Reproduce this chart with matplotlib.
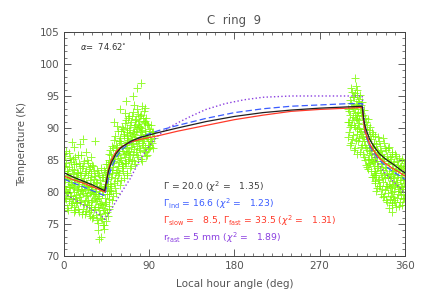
import matplotlib
matplotlib.use("Agg")
import matplotlib.pyplot as plt
import numpy as np

# measured temperatures (scatter), grouped by local hour angle
morning_ang = [1, 3, 5, 7, 9, 11, 13, 15, 17, 19, 21, 23, 25, 27, 29, 31, 33, 35, 37, 39,
               41, 43, 45, 47, 49, 51, 53, 55, 57, 59, 61, 63, 65, 67, 69, 71, 73, 75, 77,
               79, 81, 83, 85, 87, 89, 91, 93, 95]
morning_temp = [
    [79.1, 81.8, 80.4, 84.0, 85.6], [77.5, 82.6, 79.9, 83.3], [80.7, 78.6, 83.9, 82.0, 86.1],
    [81.2, 77.9, 84.7, 79.4], [78.9, 82.8, 80.6, 85.2], [80.0, 76.9, 83.5, 81.5, 87.0],
    [82.3, 79.5, 84.4, 78.2], [77.3, 81.0, 80.3, 85.8, 83.0], [79.7, 82.9, 78.5, 84.1, 87.5],
    [81.6, 76.6, 83.7, 80.1], [78.1, 80.9, 82.2, 84.8], [77.0, 79.3, 83.2, 81.4, 86.2],
    [80.5, 78.8, 82.6, 84.5], [76.3, 81.8, 79.9, 83.9], [78.4, 80.7, 77.6, 82.9, 85.4],
    [79.6, 76.1, 81.2, 84.0], [77.7, 80.2, 82.5, 79.0, 88.0], [75.6, 78.9, 81.4, 83.4],
    [77.2, 80.6, 79.1, 82.6, 72.6], [76.0, 78.3, 81.0, 83.8, 73.0], [77.5, 74.9, 80.1, 82.4],
    [76.7, 79.0, 78.1, 81.7, 83.1],
    [76.8, 79.6, 80.9, 83.7], [78.9, 80.1, 82.8, 85.9, 77.4], [80.3, 81.2, 84.7, 86.5],
    [78.7, 82.9, 83.5, 87.2], [81.4, 84.8, 85.2, 88.1, 91.0], [79.9, 83.1, 86.6, 87.4],
    [82.6, 84.0, 85.7, 89.5], [81.1, 85.3, 87.9, 88.4, 93.0], [83.7, 84.4, 86.8, 90.2],
    [82.2, 85.9, 88.8, 89.1], [84.5, 86.1, 87.3, 91.3, 94.2], [83.0, 87.8, 88.9, 90.0],
    [85.2, 86.4, 89.7, 91.8], [84.0, 87.1, 88.3, 90.9], [86.0, 87.7, 89.4, 92.5, 95.0],
    [84.3, 88.6, 90.5, 91.2], [85.8, 87.2, 89.9, 92.9, 96.3], [86.9, 88.1, 91.1, 90.3],
    [85.1, 89.3, 90.0, 92.0, 97.0], [87.4, 88.5, 91.6], [86.3, 89.0, 90.7, 93.2],
    [85.6, 88.7, 91.5], [87.9, 86.7, 90.4], [88.2, 89.6, 87.0], [87.6, 89.3], [88.4],
]
morning_ang_b = [0, 2, 4, 6, 8, 10, 12, 14, 16, 18, 20, 22, 24, 26, 28, 30, 32, 34, 36, 38,
                 40, 42, 44, 46, 48, 50, 52, 54, 56, 58, 60, 62, 64, 66, 68, 70, 72, 74, 76,
                 78, 80, 82, 84, 86, 88, 90, 92, 94]
morning_temp_b = [
    [78.0, 80.9, 83.3, 82.1], [80.2, 84.6, 78.9, 86.4], [77.1, 81.5, 83.0, 79.8],
    [79.3, 82.4, 85.3, 80.8], [78.2, 81.1, 83.6, 87.8], [80.7, 77.7, 82.0, 84.3],
    [79.0, 81.9, 85.4, 77.2], [80.4, 78.4, 83.1, 82.0], [76.8, 81.3, 79.2, 84.6],
    [78.7, 82.7, 80.5, 85.7], [79.8, 77.4, 81.7, 84.0, 88.3], [76.5, 80.3, 82.9, 78.6],
    [79.5, 81.1, 77.9, 85.0], [78.0, 80.8, 83.6, 76.9], [80.0, 77.2, 82.3, 81.0],
    [78.8, 75.9, 80.4, 84.2], [77.4, 79.7, 82.0, 83.3], [76.4, 78.6, 81.5, 80.0],
    [75.1, 79.4, 77.6, 82.9, 74.0], [78.1, 76.6, 80.8, 81.9], [75.8, 77.9, 79.7, 82.4],
    [74.8, 77.1, 80.6, 83.4, 74.2],
    [78.4, 75.5, 81.3, 82.6, 84.4], [76.2, 80.9, 82.0, 84.3], [79.6, 77.8, 83.4, 85.0],
    [81.0, 82.4, 85.8, 80.2], [79.4, 83.9, 86.8, 84.5], [82.1, 80.6, 85.6, 88.7],
    [83.5, 81.7, 87.0, 86.1, 90.3], [84.7, 82.9, 88.0, 86.4], [81.9, 85.0, 87.7, 89.6],
    [84.1, 86.4, 83.3, 89.9], [85.5, 87.3, 84.6, 90.7, 92.4], [82.6, 86.9, 88.5, 89.4],
    [84.9, 88.1, 86.2, 91.6], [85.7, 83.8, 89.2, 90.4], [87.5, 85.0, 88.8, 91.9],
    [86.7, 84.8, 90.1, 89.0, 93.6], [88.0, 86.2, 91.4, 89.6], [85.5, 87.9, 90.6, 92.2],
    [86.6, 88.9, 91.8, 90.2], [84.9, 87.6, 89.7, 93.4], [86.4, 88.3, 90.9, 92.6],
    [87.1, 89.5, 91.1], [85.8, 88.6, 90.6], [87.3, 89.9, 86.9], [88.0, 90.5], [86.9, 89.4],
]
evening_ang = [301, 303, 305, 307, 309, 311, 313, 315, 317, 319, 321, 323, 325, 327, 329,
               331, 333, 335, 337, 339, 341, 343, 345, 347, 349, 351, 353, 355, 357, 359]
evening_temp = [
    [89.4, 92.6, 91.0], [87.6, 93.9, 90.5, 96.2], [91.7, 88.9, 94.8, 93.1],
    [86.9, 92.3, 90.2, 95.4, 97.8], [89.0, 93.6, 91.4, 95.9], [87.9, 90.8, 94.2, 92.5],
    [86.2, 89.6, 93.0, 95.1], [88.7, 91.9, 87.3, 94.0], [85.5, 89.9, 88.0, 92.8],
    [86.8, 84.2, 90.9, 89.1], [87.9, 85.1, 91.4, 83.6], [84.6, 88.8, 86.4, 90.2],
    [82.3, 86.9, 85.0, 89.4], [84.1, 87.7, 82.7, 85.9], [81.4, 85.5, 88.7, 83.3],
    [83.8, 80.6, 86.6, 84.9], [82.0, 85.8, 80.9, 87.9], [79.7, 84.3, 82.9, 86.4],
    [81.5, 85.2, 83.4, 79.2, 88.4], [80.3, 83.9, 86.9, 82.1], [78.5, 82.8, 85.6, 80.9],
    [81.3, 84.5, 77.5, 83.0, 87.0], [79.4, 82.5, 85.1, 80.6], [78.0, 83.8, 81.1, 76.9, 86.2],
    [80.1, 82.2, 84.7, 78.8], [77.6, 81.6, 83.5, 85.6], [79.6, 82.7, 80.7, 84.2],
    [78.4, 81.9, 83.9, 80.2], [80.8, 77.9, 82.6, 85.1], [79.1, 83.2, 81.4, 84.6],
]
evening_ang_b = [300, 302, 304, 306, 308, 310, 312, 314, 316, 318, 320, 322, 324, 326, 328,
                 330, 332, 334, 336, 338, 340, 342, 344, 346, 348, 350, 352, 354, 356, 358, 360]
evening_temp_b = [
    [88.6, 90.9, 93.0], [90.1, 87.4, 94.4, 92.0], [88.3, 95.6, 91.2, 93.5],
    [90.4, 86.6, 92.9, 94.9], [88.1, 93.8, 91.6, 96.5], [89.8, 86.0, 92.1, 95.2],
    [91.2, 88.4, 94.6, 90.0], [87.0, 92.4, 89.3, 93.6], [85.9, 90.6, 88.6, 92.1],
    [87.4, 85.0, 89.8, 91.6], [83.9, 88.3, 86.6, 90.5], [85.8, 89.7, 84.4, 87.1],
    [83.2, 86.1, 88.2, 85.1], [84.7, 82.3, 87.1, 89.1], [83.0, 86.5, 84.9, 81.7],
    [85.4, 82.6, 87.5, 80.2], [81.8, 84.0, 86.3, 88.6], [83.4, 80.9, 85.7, 87.2],
    [80.4, 84.6, 82.3, 86.0], [82.7, 79.3, 85.3, 87.6], [81.0, 83.7, 78.7, 86.5],
    [79.8, 84.9, 82.4, 86.8], [82.1, 78.9, 80.8, 85.5], [80.0, 83.3, 85.9, 78.3],
    [81.7, 79.2, 84.4, 82.8], [78.5, 80.9, 83.2, 86.0], [81.2, 84.8, 79.0, 82.4],
    [80.4, 77.8, 83.6, 85.3], [82.3, 79.5, 84.1, 81.0], [78.9, 81.8, 83.7, 80.5],
    [79.6, 82.9, 84.9],
]

# model curves
model_ang = [0, 10, 20, 30, 40, 43, 45, 47, 50, 55, 60, 70, 80, 90, 100, 120, 150, 180,
             210, 240, 270, 300, 315, 316.5, 318, 320, 323, 327, 333, 340, 348, 355, 360]
t_gamma = [83.0, 82.3, 81.7, 81.1, 80.4, 80.2, 81.8, 83.3, 84.6, 86.0, 86.9, 87.9, 88.5,
           88.9, 89.3, 90.0, 91.0, 91.8, 92.4, 92.8, 93.1, 93.3, 93.4, 91.5, 90.3, 89.4,
           88.2, 87.2, 86.0, 85.1, 84.3, 83.5, 83.0]
t_ind = [82.0, 81.4, 80.8, 80.2, 79.6, 79.4, 80.8, 82.3, 83.8, 85.4, 86.5, 87.7, 88.5,
         89.1, 89.6, 90.4, 91.5, 92.4, 93.0, 93.4, 93.6, 93.8, 93.8, 91.0, 89.3, 88.3,
         87.2, 86.2, 85.0, 84.0, 83.1, 82.5, 82.0]
t_two = [82.5, 81.9, 81.4, 80.8, 80.2, 80.0, 81.9, 83.6, 85.0, 86.3, 87.0, 87.8, 88.2,
         88.5, 88.8, 89.5, 90.4, 91.3, 92.0, 92.6, 92.9, 93.1, 93.2, 91.0, 89.5, 88.6,
         87.5, 86.5, 85.3, 84.4, 83.6, 83.0, 82.5]
rfast_ang = [0, 10, 20, 30, 40, 43, 50, 60, 70, 80, 90, 100, 110, 120, 135, 150, 170, 190,
             210, 240, 270, 300, 315, 316.5, 318, 320, 323, 327, 333, 340, 348, 355, 360]
t_rfast = [79.8, 78.9, 78.0, 77.2, 76.2, 75.7, 77.3, 79.8, 82.1, 85.0, 87.2, 88.9, 90.0,
           90.8, 91.9, 92.9, 93.8, 94.4, 94.8, 95.0, 95.0, 95.0, 95.0, 92.0, 90.0, 88.5,
           87.0, 85.6, 84.1, 82.8, 81.6, 80.6, 79.8]


def flatten(angs, temps):
    xs = [a for a, ts in zip(angs, temps) for t in ts]
    ys = [t for ts in temps for t in ts]
    return xs, ys


fig = plt.figure(figsize=(4.27, 3.05), dpi=100)
ax = fig.add_axes([0.150, 0.161, 0.798, 0.734])

green = '#7cfc00'
for angs, temps in [(morning_ang, morning_temp), (morning_ang_b, morning_temp_b),
                    (evening_ang, evening_temp), (evening_ang_b, evening_temp_b)]:
    xs, ys = flatten(angs, temps)
    ax.plot(xs, ys, '+', color=green, ms=6, mew=0.7, alpha=0.8)

c_black = '#202020'
c_blue = '#3a5cff'
c_red = '#ff3a2a'
c_purple = '#8a3fe0'
ax.plot(rfast_ang, t_rfast, ':', color=c_purple, lw=1.0)
ax.plot(model_ang, t_ind, '--', color=c_blue, lw=0.9, dashes=(5, 2.5))
ax.plot(model_ang, t_two, '-', color=c_red, lw=0.9)
ax.plot(model_ang, t_gamma, '-', color=c_black, lw=0.9)

ax.set_xlim(0, 360)
ax.set_ylim(70, 105)
ax.set_xticks([0, 90, 180, 270, 360])
ax.set_xticks(np.arange(0, 361, 10), minor=True)
ax.set_yticks(np.arange(70, 106, 5))
ax.set_yticks(np.arange(70, 106, 1), minor=True)
ax.tick_params(which='both', direction='in', top=True, right=True,
               colors='#444444', labelsize=7.5, labelcolor='#555555')
ax.tick_params(which='major', length=5, width=0.6)
ax.tick_params(which='minor', length=2.5, width=0.5)
for s in ax.spines.values():
    s.set_color('#444444')
    s.set_linewidth(0.7)

ax.set_xlabel('Local hour angle (deg)', fontsize=7.5, color='#555555', labelpad=6)
ax.set_ylabel('Temperature (K)', fontsize=7.5, color='#555555', labelpad=9)
ax.set_title('C  ring  9', fontsize=8.5, color='#555555', pad=6)

ax.text(17, 102.7, r'$\alpha$=  74.62$^{\circ}$', fontsize=6, color='#333333', va='center')

tx = 105
fs = 6.7
ax.text(tx, 80.8, r'$\Gamma$ = 20.0 ($\chi^2$ =   1.35)', fontsize=fs, color='#404040', va='center')
ax.text(tx, 78.1, r'$\Gamma_{\rm ind}$ = 16.6 ($\chi^2$ =   1.23)', fontsize=fs, color=c_blue, va='center')
ax.text(tx, 75.5, r'$\Gamma_{\rm slow}$ =   8.5, $\Gamma_{\rm fast}$ = 33.5 ($\chi^2$ =   1.31)',
        fontsize=fs, color=c_red, va='center')
ax.text(tx, 72.9, r'r$_{\rm fast}$ = 5 mm ($\chi^2$ =   1.89)', fontsize=fs, color=c_purple, va='center')

fig.savefig('out.png', dpi=100)
